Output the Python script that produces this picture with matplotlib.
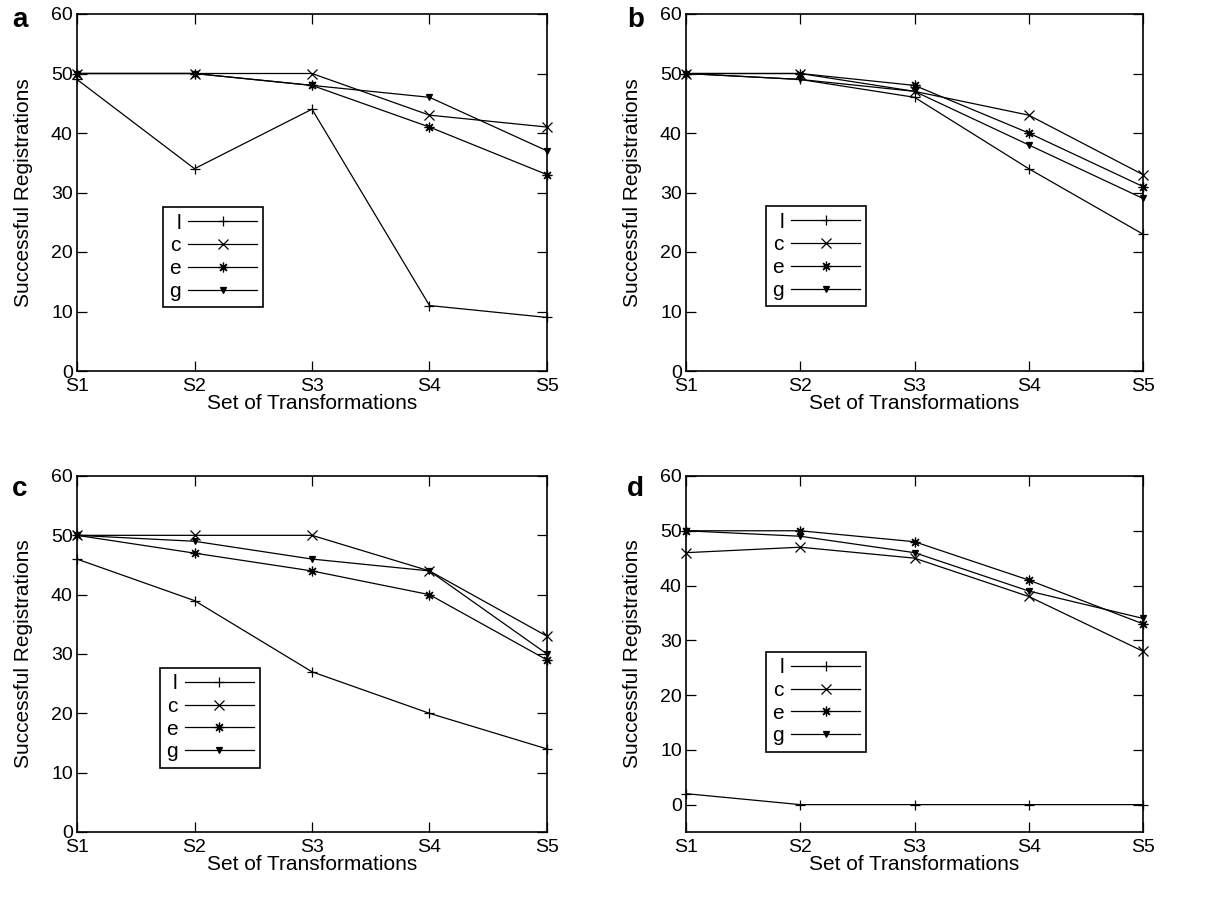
import numpy as np
import matplotlib
matplotlib.use('Agg')
import matplotlib.pyplot as plt

plt.rcParams['font.family'] = ['Liberation Sans', 'DejaVu Sans']

# Data
sets = ['S1', 'S2', 'S3', 'S4', 'S5']
names = ['l', 'c', 'e', 'g']

a_l = [49, 34, 44, 11, 9]
a_c = [50, 50, 50, 43, 41]
a_e = [50, 50, 48, 41, 33]
a_g = [50, 50, 48, 46, 37]

b_l = [50, 49, 46, 34, 23]
b_c = [50, 50, 47, 43, 33]
b_e = [50, 50, 48, 40, 31]
b_g = [50, 49, 47, 38, 29]

c_l = [46, 39, 27, 20, 14]
c_c = [50, 50, 50, 44, 33]
c_e = [50, 47, 44, 40, 29]
c_g = [50, 49, 46, 44, 30]

d_l = [2, 0, 0, 0, 0]
d_c = [46, 47, 45, 38, 28]
d_e = [50, 50, 48, 41, 33]
d_g = [50, 49, 46, 39, 34]

panels = [
    ('a', [a_l, a_c, a_e, a_g], (0, 60)),
    ('b', [b_l, b_c, b_e, b_g], (0, 60)),
    ('c', [c_l, c_c, c_e, c_g], (0, 60)),
    ('d', [d_l, d_c, d_e, d_g], (-5, 60)),
]

markers = ['+', 'x', (8, 2, 0), 'v']
msizes = [7, 6.5, 7, 5]

fig = plt.figure(figsize=(12.18, 9.01), dpi=100)

# axes positions in pixels: left, top, right, bottom
boxes = [(77, 14, 547, 371), (686, 14, 1143, 371),
         (77, 476, 547, 832), (686, 476, 1143, 832)]
leg_pos = [(0.183, 0.458), (0.175, 0.461), (0.176, 0.461), (0.175, 0.506)]
letter_pos = [(12, 27), (627, 27), (12, 496), (627, 496)]

W, H = 1218, 901
x = np.arange(len(sets))

for (letter, series, ylim), box, lp, tp in zip(panels, boxes, leg_pos, letter_pos):
    l, t, r, b = box
    ax = fig.add_axes([l / W, 1 - b / H, (r - l) / W, (b - t) / H])
    for vals, name, m, ms in zip(series, names, markers, msizes):
        ax.plot(x, vals, color='black', linewidth=0.9, marker=m,
                markersize=ms, markeredgewidth=0.9, label=name, clip_on=False)
    ax.set_xlim(0, len(sets) - 1)
    ax.set_ylim(*ylim)
    ax.set_yticks(np.arange(0, 61, 10))
    ax.set_xticks(x)
    ax.set_xticklabels(sets)
    ax.tick_params(direction='in', top=True, right=True, length=7, width=0.9,
                   labelsize=14)
    ax.tick_params(axis='x', pad=5)
    ax.tick_params(axis='y', pad=3)
    for sp in ax.spines.values():
        sp.set_linewidth(1.2)
    ax.set_xlabel('Set of Transformations', fontsize=15, labelpad=-1)
    ax.set_ylabel('Successful Registrations', fontsize=15, labelpad=13)
    leg = ax.legend(loc='upper left', bbox_to_anchor=lp, markerfirst=False,
                    numpoints=1, fontsize=15, handlelength=3.3, handletextpad=0.35,
                    labelspacing=0.18, borderpad=0.3, borderaxespad=0,
                    fancybox=False, edgecolor='black', framealpha=1)
    leg.get_frame().set_linewidth(1.2)
    for txt in leg.get_texts():
        txt.set_ha('right')
    fig.text(tp[0] / W, 1 - tp[1] / H, letter, fontsize=20, fontweight='bold',
             va='baseline', ha='left')

fig.savefig('out.png', dpi=100)
